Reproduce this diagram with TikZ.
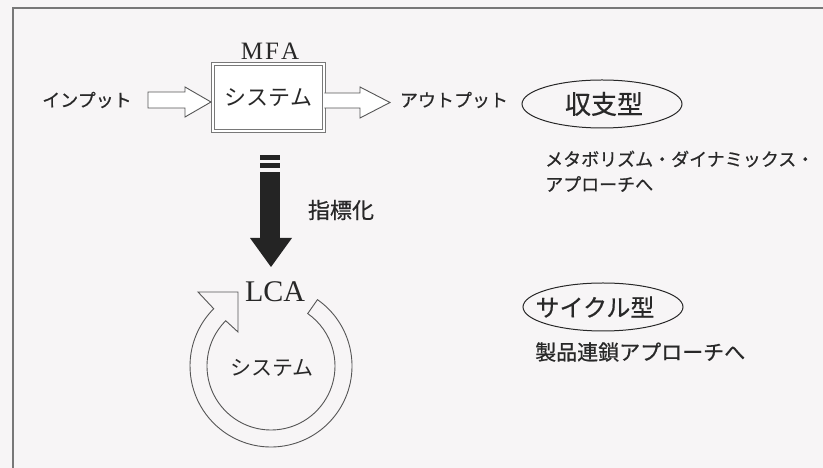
\documentclass[tikz,border=0pt]{standalone}
\usepackage{fontspec}
\setmainfont{Liberation Serif}
\newfontfamily\jp[FakeBold=0.6]{Noto Sans CJK JP}
\newfontfamily\jpl{Noto Sans CJK JP}
\usetikzlibrary{shapes.geometric,calc}
\definecolor{bgc}{RGB}{247,245,246}
\definecolor{ink}{RGB}{40,40,40}
\definecolor{linec}{RGB}{85,85,85}
\definecolor{framec}{RGB}{120,120,120}
\tikzset{
  jp/.style={font=\jp\fontsize{#1}{#1}\selectfont, text=ink, inner sep=0pt},
  jpl/.style={font=\jpl\fontsize{#1}{#1}\selectfont, text=ink, inner sep=0pt},
  rm/.style={font=\fontsize{#1}{#1}\selectfont, text=ink, inner sep=0pt},
  hollow/.style={draw=linec, line width=0.9pt, fill=white, line join=miter},
  solidarrow/.style={fill=ink!90!black},
  ovalbox/.style={ellipse, draw=ink, line width=1pt, inner sep=0pt},
  ring/.style={draw=linec, line width=0.9pt, line join=miter}
}
\begin{document}
\begin{tikzpicture}[x=1pt,y=1pt]
\fill[bgc] (0,0) rectangle (823,468);
\useasboundingbox (0,0) rectangle (823,468);
% frame (top and left edges visible)
\draw[framec, line width=1.8pt] (13,0) -- (13,460) -- (823,460);

% MFA block
\node[rm=25, anchor=base] (mfa) at (270,408) {M\kern2pt F\kern2pt A};
\node[draw=framec, double=white, line width=0.9pt, double distance=1.6pt,
      minimum width=111pt, minimum height=67pt, jpl=22, fill=white] (sys) at (268.5,370.5) {システム};
\node[jp=18] (in) at (87,368) {インプット};
\node[jp=18] (out) at (454,368) {アウトプット};
% hollow arrows
\draw[hollow] (148,360) -- (185,360) -- (185,351) -- (211,366) -- (185,381) -- (185,376) -- (148,376) -- cycle;
\draw[hollow] (sys.east|-0,360) -- (360,360) -- (360,350) -- (390,365.5) -- (360,381) -- (360,375) -- (sys.east|-0,375);

% 収支型
\node[ovalbox, minimum width=160pt, minimum height=48pt] (shushi) at (602,364) {};
\node[jp=26] (shushit) at (604,364) {収支型};
\node[jp=18, anchor=west] (meta1) at (545,309) {メタボリズム・ダイナミックス・};
\node[jp=18, anchor=west] (meta2) at (545,284) {アプローチへ};

% indexing arrow
\fill[solidarrow] (260,308) rectangle (280,313);
\fill[solidarrow] (260,300) rectangle (280,305);
\fill[solidarrow] (260,229) rectangle (280,296);
\fill[solidarrow] (250,230) -- (292,230) -- (271,201) -- cycle;
\node[jp=22] (shihyo) at (341,258) {指標化};

% LCA cycle
\coordinate (C) at (271,102);
\node[rm=30, anchor=base] (lca) at (275,166) {LCA};
\draw[ring] ($(C)+(55:81pt)$) arc[start angle=55,end angle=-225,radius=81pt]
  -- (198,176) -- (238,176) -- (238,136) -- ($(C)+(135:64pt)$)
  arc[start angle=135,end angle=415,radius=64pt] -- cycle;
\node[jpl=21] (sys2) at (272,100) {システム};

% サイクル型
\node[ovalbox, minimum width=160pt, minimum height=48pt] (cycle) at (603,161) {};
\node[jp=24] (cyclet) at (595,161) {サイクル型};
\node[jp=21, anchor=west] (seihin) at (535,116) {製品連鎖アプローチへ};
\end{tikzpicture}
\end{document}
